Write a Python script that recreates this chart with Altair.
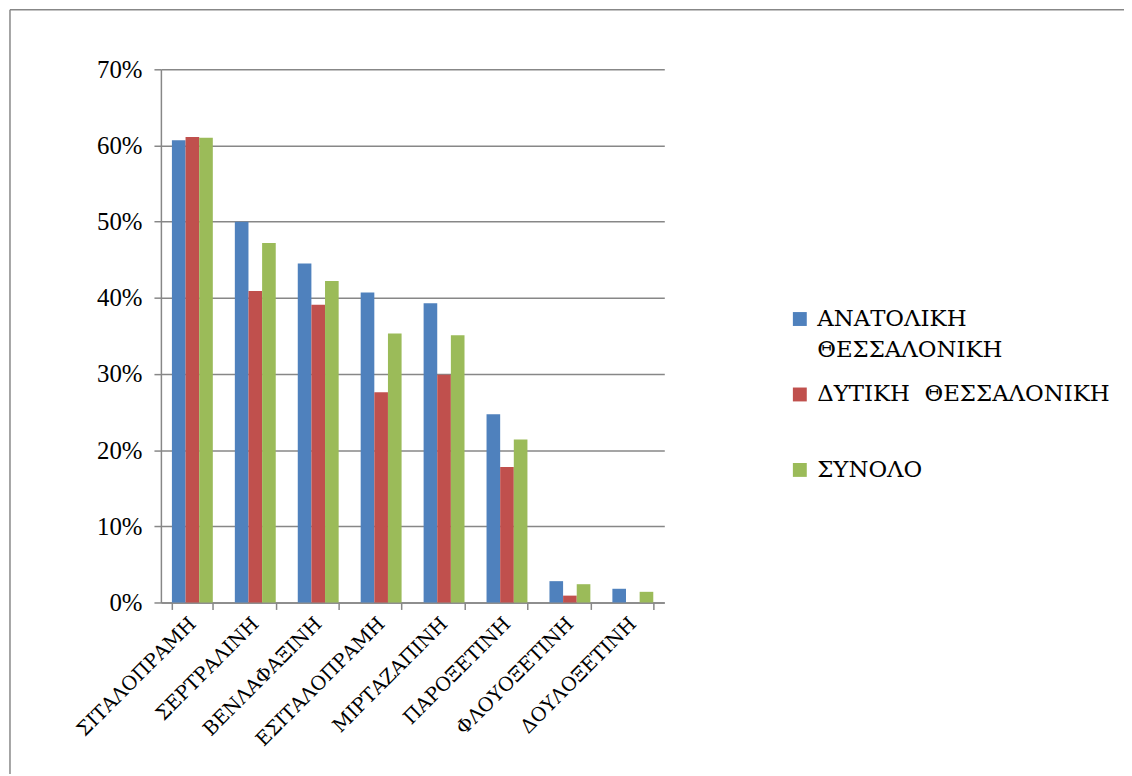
import altair as alt
import pandas as pd

categories = ["ΣΙΤΑΛΟΠΡΑΜΗ", "ΣΕΡΤΡΑΛΙΝΗ", "ΒΕΝΛΑΦΑΞΙΝΗ", "ΕΣΙΤΑΛΟΠΡΑΜΗ",
              "ΜΙΡΤΑΖΑΠΙΝΗ", "ΠΑΡΟΞΕΤΙΝΗ", "ΦΛΟΥΟΞΕΤΙΝΗ", "ΔΟΥΛΟΞΕΤΙΝΗ"]
series = ["ΑΝΑΤΟΛΙΚΗ ΘΕΣΣΑΛΟΝΙΚΗ", "ΔΥΤΙΚΗ\u00a0 ΘΕΣΣΑΛΟΝΙΚΗ", "ΣΥΝΟΛΟ"]
east = [60.7, 50.0, 44.5, 40.7, 39.3, 24.7, 2.8, 1.8]
west = [61.1, 40.9, 39.1, 27.6, 29.9, 17.8, 0.9, 0.0]
total = [61.0, 47.2, 42.2, 35.3, 35.1, 21.4, 2.4, 1.4]
colors = ["#4F81BD", "#C0504D", "#9BBB59"]
y_ticks = [0, 0.1, 0.2, 0.3, 0.4, 0.5, 0.6, 0.7]

rows = []
for s, vals in zip(series, [east, west, total]):
    for c, v in zip(categories, vals):
        rows.append({"cat": c, "series": s, "value": v / 100})
df = pd.DataFrame(rows)

FONT = "Liberation Serif"
GFONT = "DejaVu Serif"
GRID = "#878787"

bars = alt.Chart(df).mark_bar().encode(
    x=alt.X("cat:N", sort=categories, title=None,
            scale=alt.Scale(paddingInner=0.35, paddingOuter=0.175),
            axis=alt.Axis(labelAngle=-45, labelFont=GFONT, labelFontSize=19.5,
                          labelColor="black", tickBand="extent", ticks=True,
                          tickSize=7, tickColor=GRID, tickWidth=1.5,
                          domainColor=GRID, domainWidth=1.5, labelPadding=11,
                          labelAlign="right", labelBaseline="middle",
                          labelLimit=400, grid=False)),
    xOffset=alt.XOffset("series:N", sort=series, scale=alt.Scale(paddingInner=0, paddingOuter=0)),
    y=alt.Y("value:Q", title=None,
            scale=alt.Scale(domain=[0, 0.7], nice=False),
            axis=alt.Axis(values=y_ticks, format=".0%", labelFont=FONT,
                          labelFontSize=25, labelColor="black", tickSize=7,
                          tickColor=GRID, tickWidth=1.5, domainColor=GRID,
                          domainWidth=1.5, gridColor=GRID, gridWidth=1.5,
                          labelPadding=12)),
    color=alt.Color("series:N", sort=series,
                    scale=alt.Scale(domain=series, range=colors),
                    legend=alt.Legend(orient="none", legendX=632, legendY=240,
                                      title=None, symbolType="square",
                                      symbolSize=196, symbolStrokeWidth=0,
                                      labelFont=GFONT, labelFontSize=23,
                                      labelColor="black", labelLimit=500,
                                      labelOffset=6, rowPadding=21,
                                      gridAlign="all",
                                      labelExpr="datum.label == 'ΑΝΑΤΟΛΙΚΗ ΘΕΣΣΑΛΟΝΙΚΗ' ? ['ΑΝΑΤΟΛΙΚΗ', 'ΘΕΣΣΑΛΟΝΙΚΗ'] : datum.label")),
)

frame_df = pd.DataFrame({"a": [0]})
top_line = alt.Chart(frame_df).mark_rule(color=GRID, strokeWidth=1.5).encode(
    x=alt.value(-152), x2=alt.value(1000), y=alt.value(-60))
left_line = alt.Chart(frame_df).mark_rule(color=GRID, strokeWidth=1.5).encode(
    x=alt.value(-152), y=alt.value(-60), y2=alt.value(800))

chart = alt.layer(bars, top_line, left_line).properties(
    width=507, height=537,
    autosize=alt.AutoSizeParams(type="none"),
    padding={"left": 154, "top": 59, "right": 463, "bottom": 170},
).configure(
    style={"guide-label": {"lineHeight": 31}}
).configure_view(stroke=None)

chart.save("out.html", embed_options={"renderer": "svg", "actions": False})
